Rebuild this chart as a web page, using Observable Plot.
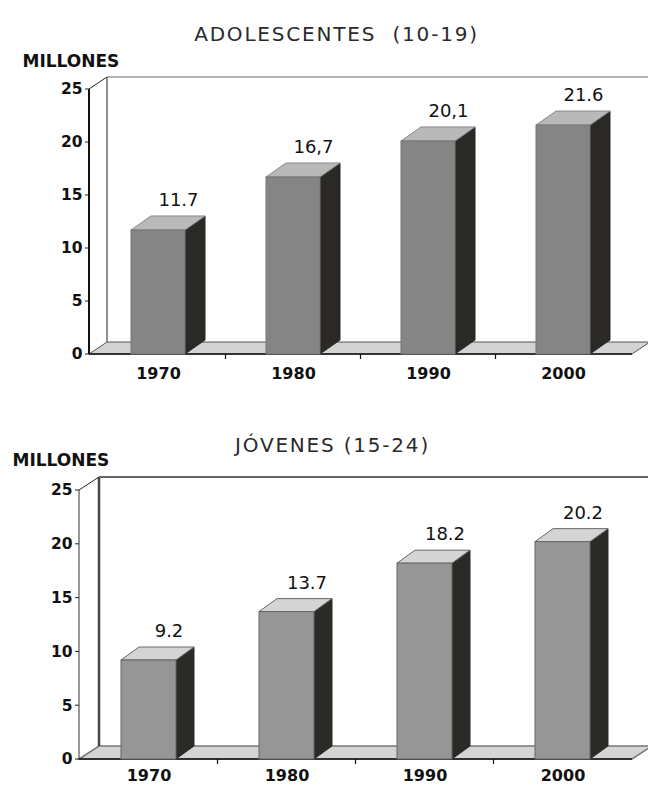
<!DOCTYPE html>
<html>
<head>
<meta charset="utf-8">
<script src="https://cdn.jsdelivr.net/npm/d3@7"></script>
<script src="https://cdn.jsdelivr.net/npm/@observablehq/plot@0.6"></script>
<style>
  html, body { margin: 0; padding: 0; background: #fff; }
  svg { display: block; }
</style>
</head>
<body>
<div id="chart"></div>
<script>
// ---- data ----
const years = ["1970", "1980", "1990", "2000"];
const adolValues = [11.7, 16.7, 20.1, 21.6];
const adolLabels = ["11.7", "16,7", "20,1", "21.6"];
const jovValues = [9.2, 13.7, 18.2, 20.2];
const jovLabels = ["9.2", "13.7", "18.2", "20.2"];
const yTicks = [0, 5, 10, 15, 20, 25];
const titleA = "ADOLESCENTES  (10-19)";
const titleB = "JÓVENES (15-24)";
const unitLabel = "MILLONES";

function bw(x) { return typeof x.bandwidth === "function" ? x.bandwidth() : x.bandwidth; }

function sceneMark(cfg) {
  return (index, scales, values, dims) => {
    const {x, y} = scales;
    const x0 = dims.marginLeft, x1 = dims.width - dims.marginRight;
    const yb = y(0), yt = y(yTicks[yTicks.length - 1]);
    const dx = cfg.wdx, dy = cfg.wdy;
    const g = d3.create("svg:g");
    g.append("path")
      .attr("d", `M${x0},${yb}L${x1},${yb}L${x1 + dx},${yb + dy}L${x0 + dx},${yb + dy}Z`)
      .attr("fill", cfg.floorFill).attr("stroke", cfg.floorStroke).attr("stroke-width", cfg.floorWidth);
    g.append("line").attr("x1", x0 + dx).attr("x2", x0 + dx).attr("y1", yb + dy).attr("y2", yt + dy)
      .attr("stroke", cfg.wallStroke).attr("stroke-width", cfg.wallLeftWidth);
    g.append("line").attr("x1", x0 + dx).attr("x2", dims.width + 10).attr("y1", yt + dy).attr("y2", yt + dy)
      .attr("stroke", cfg.wallTopStroke).attr("stroke-width", cfg.wallTopWidth);
    g.append("line").attr("x1", x0).attr("x2", x0 + dx).attr("y1", yt).attr("y2", yt + dy)
      .attr("stroke", "#222").attr("stroke-width", 1);
    g.append("line").attr("x1", x0).attr("x2", x0).attr("y1", yt).attr("y2", yb)
      .attr("stroke", cfg.axisStroke).attr("stroke-width", cfg.axisWidth);
    for (const t of yTicks) {
      g.append("line").attr("x1", x0 - 4).attr("x2", x0).attr("y1", y(t)).attr("y2", y(t))
        .attr("stroke", "#222").attr("stroke-width", 1);
    }
    g.append("line").attr("x1", x0).attr("x2", x1).attr("y1", yb).attr("y2", yb)
      .attr("stroke", "#111").attr("stroke-width", 1.5);
    const b = bw(x);
    for (let i = 0; i < years.length - 1; i++) {
      const xm = (x(years[i]) + b + x(years[i + 1])) / 2;
      g.append("line").attr("x1", xm).attr("x2", xm).attr("y1", yb).attr("y2", yb + 5)
        .attr("stroke", "#111").attr("stroke-width", 1.2);
    }
    return g.node();
  };
}

function bars3dMark(data, cfg) {
  return (index, scales) => {
    const {x, y} = scales;
    const b = bw(x);
    const dx = cfg.bdx, dy = cfg.bdy;
    const g = d3.create("svg:g");
    for (const d of data) {
      const bx = x(d.year), ty = y(d.value), by = y(0);
      g.append("path")
        .attr("d", `M${bx + b},${ty}L${bx + b + dx},${ty + dy}L${bx + b + dx},${by + dy}L${bx + b},${by}Z`)
        .attr("fill", cfg.side).attr("stroke", cfg.sideStroke).attr("stroke-width", 1);
      g.append("path")
        .attr("d", `M${bx},${ty}L${bx + dx},${ty + dy}L${bx + b + dx},${ty + dy}L${bx + b},${ty}Z`)
        .attr("fill", cfg.top).attr("stroke", cfg.topStroke).attr("stroke-width", 1);
    }
    return g.node();
  };
}

function makeChart(vals, labels, title, cfg) {
  const data = years.map((year, i) => ({year, value: vals[i], label: labels[i]}));
  const m = cfg.margins;
  const svg = Plot.plot({
    width: 648,
    height: cfg.height,
    marginTop: m.top, marginRight: m.right, marginBottom: m.bottom, marginLeft: m.left,
    style: {background: "#fff", color: "#111", overflow: "visible", fontFamily: "DejaVu Sans"},
    x: {type: "band", domain: years, paddingInner: 0.6, paddingOuter: 0.3, axis: null},
    y: {domain: [0, 25], axis: null},
    marks: [
      sceneMark(cfg),
      bars3dMark(data, cfg),
      Plot.barY(data, {x: "year", y: "value", fill: cfg.front, stroke: cfg.frontStroke, strokeWidth: 1}),
      Plot.text(yTicks, {y: d => d, text: d => String(d), frameAnchor: "left", textAnchor: "end",
        dx: -cfg.yLabelGap, fontWeight: "bold", fontSize: 15.5, fill: "#111"}),
      Plot.text(years, {x: d => d, text: d => d, frameAnchor: "bottom", dy: cfg.xLabelDy,
        fontWeight: "bold", fontSize: 16, fill: "#111"}),
      Plot.text(data, {x: "year", y: "value", text: "label", dx: 20, dy: cfg.bdy - 16,
        fontSize: 18, fontWeight: "normal", fill: "#111"}),
      Plot.text([title], {text: d => d, frameAnchor: "top-left", textAnchor: "middle",
        dx: cfg.titleX - m.left, dy: cfg.titleY - m.top, fontSize: 20, fontWeight: "normal", fill: "#2a2a2a"}),
      Plot.text([unitLabel], {text: d => d, frameAnchor: "top-left", textAnchor: "start",
        dx: cfg.unitX - m.left, dy: cfg.unitY - m.top, fontSize: 17, fontWeight: "bold", fill: "#111"})
    ]
  });
  d3.select(svg).selectAll("text").filter(function () { return this.textContent === title; })
    .attr("letter-spacing", cfg.titleSpacing).style("white-space", "pre");
  return svg;
}

const chartA = makeChart(adolValues, adolLabels, titleA, {
  height: 400,
  margins: {top: 89, right: 16, bottom: 46, left: 89},
  wdx: 18, wdy: -12, bdx: 20, bdy: -14,
  floorFill: "#d3d3d3", floorStroke: "#555", floorWidth: 1,
  wallStroke: "#222", wallLeftWidth: 1, wallTopStroke: "#666", wallTopWidth: 1,
  axisStroke: "#111", axisWidth: 2,
  front: "#858585", frontStroke: "#777", top: "#b9b9b9", topStroke: "#8a8a8a",
  side: "#2a2926", sideStroke: "#2a2926",
  yLabelGap: 7, xLabelDy: 24,
  titleX: 336, titleY: 26, titleSpacing: 1.8,
  unitX: 22, unitY: 54
});

const chartB = makeChart(jovValues, jovLabels, titleB, {
  height: 387,
  margins: {top: 90, right: 16, bottom: 28, left: 79},
  wdx: 20, wdy: -13, bdx: 18, bdy: -13,
  floorFill: "#d4d4d4", floorStroke: "#777", floorWidth: 1.5,
  wallStroke: "#444", wallLeftWidth: 2.5, wallTopStroke: "#666", wallTopWidth: 2,
  axisStroke: "#333", axisWidth: 1,
  front: "#969696", frontStroke: "#666", top: "#d4d4d4", topStroke: "#666",
  side: "#2a2a26", sideStroke: "#2a2a26",
  yLabelGap: 7, xLabelDy: 21,
  titleX: 332, titleY: 37, titleSpacing: 1.8,
  unitX: 12, unitY: 53
});

document.getElementById("chart").append(chartA, chartB);
</script>
</body>
</html>
